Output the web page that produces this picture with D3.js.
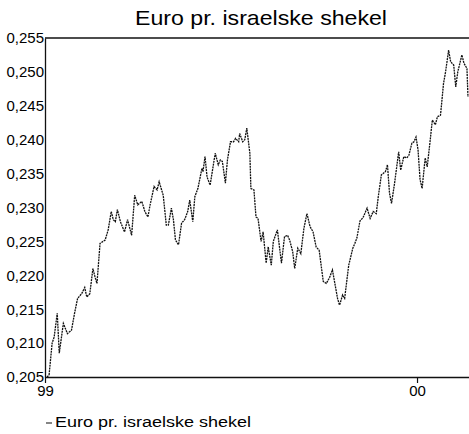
<!DOCTYPE html>
<html>
<head>
<meta charset="utf-8">
<script src="https://cdn.jsdelivr.net/npm/d3@7"></script>
<style>
  html, body { margin: 0; padding: 0; background: #fff; }
  svg { display: block; font-family: "Liberation Sans", Arial, sans-serif; }
</style>
</head>
<body>
<svg id="chart" width="469" height="434"></svg>
<script>
const title = "Euro pr. israelske shekel";
const seriesName = "Euro pr. israelske shekel";

const dates = [
  "1999-01-03","1999-01-05","1999-01-08","1999-01-10","1999-01-13","1999-01-15","1999-01-19","1999-01-23","1999-01-27","1999-01-30",
  "1999-02-02","1999-02-06","1999-02-09","1999-02-11","1999-02-14","1999-02-17","1999-02-19","1999-02-21","1999-02-24","1999-03-01",
  "1999-03-04","1999-03-07","1999-03-09","1999-03-11","1999-03-13","1999-03-16","1999-03-20","1999-03-23","1999-03-27","1999-03-30",
  "1999-04-02","1999-04-06","1999-04-09","1999-04-12","1999-04-14","1999-04-18","1999-04-21","1999-04-23","1999-04-27","1999-04-30",
  "1999-05-02","1999-05-05","1999-05-07","1999-05-09","1999-05-12","1999-05-15","1999-05-18","1999-05-21","1999-05-23","1999-05-26",
  "1999-05-28","1999-05-31","1999-06-04","1999-06-05","1999-06-07","1999-06-09","1999-06-12","1999-06-17","1999-06-20","1999-06-22",
  "1999-06-24","1999-06-27","1999-06-29","1999-07-02","1999-07-05","1999-07-07","1999-07-10","1999-07-11","1999-07-14","1999-07-16",
  "1999-07-18","1999-07-21","1999-07-22","1999-07-25","1999-07-27","1999-07-29","1999-08-01","1999-08-03","1999-08-06","1999-08-08",
  "1999-08-11","1999-08-13","1999-08-17","1999-08-21","1999-08-24","1999-08-27","1999-08-29","1999-09-01","1999-09-03","1999-09-06",
  "1999-09-09","1999-09-12","1999-09-15","1999-09-18","1999-09-21","1999-09-24","1999-09-27","1999-10-01","1999-10-04","1999-10-07",
  "1999-10-10","1999-10-13","1999-10-15","1999-10-17","1999-10-20","1999-10-22","1999-10-26","1999-10-30","1999-11-01","1999-11-03",
  "1999-11-06","1999-11-09","1999-11-13","1999-11-16","1999-11-19","1999-11-22","1999-11-24","1999-11-27","1999-12-01","1999-12-03",
  "1999-12-05","1999-12-07","1999-12-10","1999-12-14","1999-12-16","1999-12-19","1999-12-22","1999-12-24","1999-12-27","1999-12-29",
  "1999-12-31","2000-01-02","2000-01-04","2000-01-06","2000-01-09","2000-01-11","2000-01-14","2000-01-16","2000-01-19","2000-01-21",
  "2000-01-24","2000-01-25","2000-01-27","2000-01-29","2000-02-01","2000-02-03","2000-02-06","2000-02-08","2000-02-10","2000-02-14",
  "2000-02-16","2000-02-19","2000-02-20"
];

const values = [
  0.2050,0.2053,0.2100,0.2109,0.2144,0.2085,0.2129,0.2114,0.2119,0.2144,
  0.2166,0.2173,0.2182,0.2168,0.2173,0.2210,0.2198,0.2188,0.2247,0.2252,
  0.2267,0.2294,0.2282,0.2279,0.2297,0.2279,0.2264,0.2282,0.2259,0.2318,
  0.2304,0.2309,0.2294,0.2286,0.2303,0.2331,0.2326,0.2338,0.2318,0.2274,
  0.2274,0.2299,0.2282,0.2252,0.2245,0.2277,0.2282,0.2294,0.2311,0.2279,
  0.2316,0.2328,0.2358,0.2353,0.2375,0.2345,0.2333,0.2380,0.2363,0.2370,
  0.2368,0.2336,0.2370,0.2397,0.2397,0.2402,0.2397,0.2409,0.2397,0.2400,
  0.2417,0.2380,0.2328,0.2326,0.2286,0.2284,0.2250,0.2264,0.2218,0.2242,
  0.2215,0.2250,0.2267,0.2218,0.2257,0.2259,0.2252,0.2235,0.2210,0.2240,
  0.2232,0.2269,0.2291,0.2272,0.2264,0.2242,0.2237,0.2191,0.2188,0.2196,
  0.2208,0.2183,0.2166,0.2156,0.2171,0.2166,0.2215,0.2240,0.2247,0.2255,
  0.2280,0.2285,0.2299,0.2284,0.2294,0.2291,0.2316,0.2348,0.2353,0.2363,
  0.2321,0.2306,0.2336,0.2382,0.2355,0.2375,0.2373,0.2377,0.2395,0.2397,
  0.2404,0.2385,0.2341,0.2328,0.2373,0.2360,0.2400,0.2429,0.2422,0.2434,
  0.2436,0.2451,0.2483,0.2500,0.2532,0.2515,0.2510,0.2478,0.2500,0.2525,
  0.2513,0.2505,0.2463
];

const yTicks = [0.205,0.210,0.215,0.220,0.225,0.230,0.235,0.240,0.245,0.250,0.255];
const xTickDates = ["1999-01-01","2000-01-01"];
const xTickLabels = ["99","00"];

const parse = d3.timeParse("%Y-%m-%d");
const data = dates.map((d, i) => ({ date: parse(d), value: values[i] }));

const svg = d3.select("#chart");
const m = { left: 45, right: 469, top: 38, bottom: 377 };

const x = d3.scaleTime()
  .domain([parse("1999-01-01"), parse("2000-02-21")])
  .range([m.left, m.right]);
const y = d3.scaleLinear()
  .domain([0.205, 0.255])
  .range([m.bottom, m.top]);

const fmt = v => d3.format(".3f")(v).replace(".", ",");

// Title
svg.append("text")
  .attr("x", 261).attr("y", 25)
  .attr("text-anchor", "middle")
  .attr("font-size", 21)
  .attr("fill", "#000")
  .attr("textLength", 252)
  .attr("lengthAdjust", "spacingAndGlyphs")
  .text(title);

// Top border
svg.append("line")
  .attr("x1", m.left).attr("x2", m.right)
  .attr("y1", m.top).attr("y2", m.top)
  .attr("stroke", "#111").attr("stroke-width", 1.3);

// Y axis
const yAxis = svg.append("g")
  .attr("transform", `translate(${m.left},0)`)
  .call(d3.axisLeft(y).tickValues(yTicks).tickFormat(fmt).tickSize(0).tickPadding(1));
yAxis.select(".domain").attr("stroke", "#111").attr("stroke-width", 1.3);
yAxis.selectAll("text").attr("font-size", 15).attr("fill", "#000")
  .attr("font-family", "'Liberation Sans', Arial, sans-serif");

// X axis
const xAxis = svg.append("g")
  .attr("transform", `translate(0,${m.bottom})`)
  .call(d3.axisBottom(x)
    .tickValues(xTickDates.map(parse))
    .tickFormat((d, i) => xTickLabels[i])
    .tickSizeInner(6).tickSizeOuter(0).tickPadding(2));
xAxis.select(".domain").attr("stroke", "#111").attr("stroke-width", 1.3);
xAxis.selectAll(".tick line").attr("stroke", "#111").attr("stroke-width", 1.2);
xAxis.selectAll("text").attr("font-size", 15).attr("fill", "#000")
  .attr("font-family", "'Liberation Sans', Arial, sans-serif");

// Series line
const line = d3.line()
  .x(d => x(d.date))
  .y(d => y(d.value));

svg.append("path")
  .datum(data)
  .attr("d", line)
  .attr("fill", "none")
  .attr("stroke", "#111")
  .attr("stroke-width", 1.3)
  .attr("stroke-dasharray", "2,0.8");

// Legend
svg.append("line")
  .attr("x1", 46).attr("x2", 52)
  .attr("y1", 423).attr("y2", 423)
  .attr("stroke", "#222").attr("stroke-width", 1.1);
svg.append("text")
  .attr("x", 55).attr("y", 427)
  .attr("font-size", 14)
  .attr("fill", "#000")
  .attr("textLength", 196)
  .attr("lengthAdjust", "spacingAndGlyphs")
  .text(seriesName);
</script>
</body>
</html>
